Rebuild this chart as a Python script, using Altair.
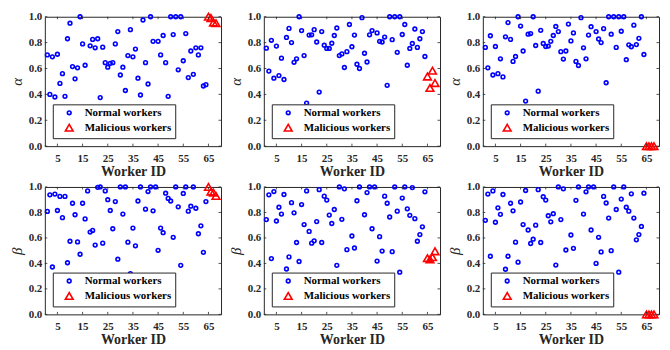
import altair as alt
import pandas as pd

# ---------------- data ----------------
worker_ids = list(range(1, 65))
mal_ids = [65, 66, 67, 68]
x_ticks = [5, 15, 25, 35, 45, 55, 65]
y_ticks = [0.0, 0.2, 0.4, 0.6, 0.8, 1.0]
types = ["Normal workers", "Malicious workers"]

alpha_a = [0.705, 0.40, 0.69, 0.38, 0.71, 0.485, 0.56, 0.385, 0.83, 0.95,
           0.615, 0.52, 0.605, 1.0, 0.79, 0.625, None, 0.775, 0.825, 0.76,
           0.83, 0.375, 0.765, 0.645, 0.61, 0.64, 0.645, 0.79, 0.885, 0.55,
           0.61, 0.43, 0.70, 0.90, 0.69, 0.75, 0.525, 0.395, 0.975, 0.645,
           0.48, 1.0, 0.81, None, 0.81, 0.705, 0.855, 0.645, 0.385, 1.0,
           0.862, 1.0, 0.59, 1.0, 0.66, 0.87, 0.53, 0.735, 0.555, 0.76,
           0.705, 0.76, 0.465, 0.475]
alpha_a_mal = [1.0, 0.99, 0.955, 0.95]

alpha_b = [0.757, 0.58, 0.818, 0.525, 0.773, 0.545, 0.68, 0.515, 0.84, 0.91,
           0.80, 0.648, 0.675, 1.0, 0.893, 0.70, 0.333, 0.858, 0.86, 0.90,
           0.805, 0.418, 0.885, 0.78, 0.755, 0.755, 0.795, 0.855, 0.913, 0.70,
           0.713, 0.608, 0.73, 0.94, 0.768, 0.858, 0.633, 0.60, 0.993, 0.718,
           0.65, 0.86, 0.893, None, 0.875, 0.81, 0.805, 0.843, 0.47, 1.0,
           0.823, 1.0, 0.725, 1.0, 0.863, 0.94, 0.625, 0.755, 0.793, 0.905,
           0.763, 0.83, 0.885, 0.693]
alpha_b_mal = [0.538, 0.45, 0.583, 0.488]

alpha_c = [0.763, 0.605, 0.853, 0.55, 0.77, 0.56, 0.675, 0.535, 0.845, 0.955,
           0.825, 0.655, 0.693, 1.0, 0.928, 0.735, 0.348, 0.865, 0.87, 1.0,
           0.778, 0.425, 0.895, 0.793, 0.77, 0.773, 0.81, 0.855, 0.925, 0.885,
           0.73, 0.673, 0.735, 0.943, 0.813, 0.875, 0.655, 0.623, 0.993, 0.76,
           0.675, 0.858, 0.923, None, 0.885, 0.828, 0.80, 0.908, 0.49, 1.0,
           0.865, 1.0, 0.763, 1.0, 0.888, 1.0, 0.668, 0.783, 0.768, 0.935,
           0.785, 0.833, 1.0, 0.708]
alpha_c_mal = [0.0, 0.0, 0.0, 0.0]

beta_a = [0.808, 0.938, 0.372, 0.944, 0.815, 0.926, 0.759, 0.926, 0.405, 0.574,
          0.872, 0.782, 0.569, 0.472, 0.872, 0.749, 0.969, 0.646, 0.659, 0.544,
          0.997, 1.0, 0.559, 0.969, 0.90, 0.815, 0.672, 0.885, 0.433, 1.0,
          0.787, 1.0, 0.567, 0.32, 0.677, 0.538, 0.89, 1.0, None, 0.826,
          0.964, 1.0, 0.813, 1.0, 0.503, 0.677, 0.641, 0.951, 0.91, 0.89,
          0.605, 1.0, 0.844, 0.385, 0.949, 1.0, 0.81, 0.849, 1.0, 0.833,
          0.633, 0.695, 0.487, 0.885]
beta_a_mal = [1.0, 0.964, 0.956, 0.93]

beta_b = [0.744, 0.938, 0.438, 0.964, 0.733, 0.841, 0.787, 0.941, 0.356, 0.451,
          0.877, 0.797, 0.564, 0.415, 0.862, 0.705, 0.969, 0.651, 0.559, 0.577,
          0.728, 0.979, 0.564, 0.928, 0.897, 0.779, 0.713, 0.823, 0.385, 1.0,
          0.746, 0.985, 0.508, 0.287, 0.615, 0.521, 0.892, 1.0, None, 0.782,
          0.956, 1.0, 0.672, 1.0, 0.418, 0.61, 0.497, 0.928, 0.872, 0.764,
          0.492, 1.0, 0.81, 0.331, 0.913, 1.0, 0.828, 0.777, 0.995, 0.751,
          0.574, 0.626, 0.687, 0.962]
beta_b_mal = [0.441, 0.431, 0.449, 0.495]

beta_c = [0.738, 0.944, 0.456, 0.969, 0.723, 0.836, 0.785, 0.941, 0.354, 0.456,
          0.872, 0.813, 0.567, 0.41, 0.882, 0.705, 0.972, 0.662, 0.556, 0.59,
          0.70, 0.979, 0.564, 0.923, 0.897, 0.774, 0.726, 0.79, 0.387, 1.0,
          0.744, 0.985, 0.505, 0.285, 0.623, 0.518, 0.895, 1.0, None, 0.787,
          0.962, 1.0, 0.662, 1.0, 0.40, 0.605, 0.49, 0.926, 0.874, 0.756,
          0.50, 1.0, 0.823, 0.331, 0.905, 1.0, 0.841, 0.81, 0.946, 0.756,
          0.585, 0.626, 0.69, 0.951]
beta_c_mal = [0.0, 0.0, 0.0, 0.0]

# ---------------- style ----------------
FONT = "Times New Roman, Liberation Serif, DejaVu Serif, serif"
BLUE = "#0000FF"
RED = "#FF0000"
FRAME = "#262626"
W = 177
H_TOP = 130
H_BOT = 128


def panel(normal, mal, ytitle, h):
    rows = [{"id": i, "v": v, "type": types[0]}
            for i, v in zip(worker_ids, normal) if v is not None]
    rows += [{"id": i, "v": v, "type": types[1]} for i, v in zip(mal_ids, mal)]
    df = pd.DataFrame(rows)

    xs = alt.Scale(domain=[0, 70], nice=False, zero=False)
    ys = alt.Scale(domain=[0, 1], nice=False)
    xa = alt.Axis(values=x_ticks, title="Worker ID", labelPadding=6,
                  titlePadding=1, titleFontSize=14,
                  labelFont=FONT, titleFont=FONT)
    ya = alt.Axis(values=y_ticks, format=".1f", title=ytitle,
                  labelPadding=3, titlePadding=4, titleFontSize=15,
                  titleFontStyle="italic", titleFontWeight="normal",
                  labelFont=FONT, titleFont=FONT)

    pts = alt.Chart(df).mark_point(filled=False, strokeWidth=1.6, opacity=1).encode(
        x=alt.X("id:Q", scale=xs, axis=xa),
        y=alt.Y("v:Q", scale=ys, axis=ya),
        color=alt.Color("type:N", scale=alt.Scale(domain=types, range=[BLUE, RED]),
                        legend=alt.Legend(title=None)),
        shape=alt.Shape("type:N", scale=alt.Scale(domain=types, range=["circle", "triangle-up"]),
                        legend=alt.Legend(title=None)),
        size=alt.Size("type:N", scale=alt.Scale(domain=types, range=[14, 60]),
                      legend=alt.Legend(title=None)),
    )

    xt = pd.DataFrame({"id": x_ticks})
    yt = pd.DataFrame({"v": y_ticks})
    tb = alt.Chart(xt).mark_rule(color=FRAME, strokeWidth=0.8).encode(
        x=alt.X("id:Q", scale=xs, axis=xa), y=alt.value(h), y2=alt.value(h - 2.5))
    tt = alt.Chart(xt).mark_rule(color=FRAME, strokeWidth=0.8).encode(
        x=alt.X("id:Q", scale=xs, axis=xa), y=alt.value(0), y2=alt.value(2.5))
    tl = alt.Chart(yt).mark_rule(color=FRAME, strokeWidth=0.8).encode(
        y=alt.Y("v:Q", scale=ys, axis=ya), x=alt.value(0), x2=alt.value(2.5))
    tr = alt.Chart(yt).mark_rule(color=FRAME, strokeWidth=0.8).encode(
        y=alt.Y("v:Q", scale=ys, axis=ya), x=alt.value(W), x2=alt.value(W - 2.5))

    return alt.layer(pts, tb, tt, tl, tr).properties(width=W, height=h)


top = alt.hconcat(
    panel(alpha_a, alpha_a_mal, "α", H_TOP),
    panel(alpha_b, alpha_b_mal, "α", H_TOP),
    panel(alpha_c, alpha_c_mal, "α", H_TOP),
    spacing=3,
).resolve_scale(color="independent", shape="independent", size="independent") \
 .resolve_legend(color="independent", shape="independent", size="independent")

bot = alt.hconcat(
    panel(beta_a, beta_a_mal, "β", H_BOT),
    panel(beta_b, beta_b_mal, "β", H_BOT),
    panel(beta_c, beta_c_mal, "β", H_BOT),
    spacing=3,
).resolve_scale(color="independent", shape="independent", size="independent") \
 .resolve_legend(color="independent", shape="independent", size="independent")

chart = alt.vconcat(top, bot, spacing=0).resolve_scale(
    color="independent", shape="independent", size="independent"
).resolve_legend(
    color="independent", shape="independent", size="independent"
).properties(
    padding=0, background="white"
).configure_view(
    stroke=FRAME, strokeWidth=1
).configure_axis(
    grid=False, ticks=False, domain=False,
    labelFont=FONT, labelFontSize=11, labelFontWeight="bold", labelColor=FRAME,
    titleFont=FONT, titleFontWeight="bold", titleColor=FRAME,
).configure_legend(
    orient="bottom-left", offset=8, fillColor="white", strokeColor=FRAME,
    padding=3, rowPadding=2, symbolOffset=8, labelOffset=10,
    labelFont=FONT, labelFontSize=11, labelFontWeight="bold", labelColor="#000000",
    symbolStrokeWidth=1.6,
)

chart.save("out.html", embed_options={"renderer": "svg", "actions": False})
